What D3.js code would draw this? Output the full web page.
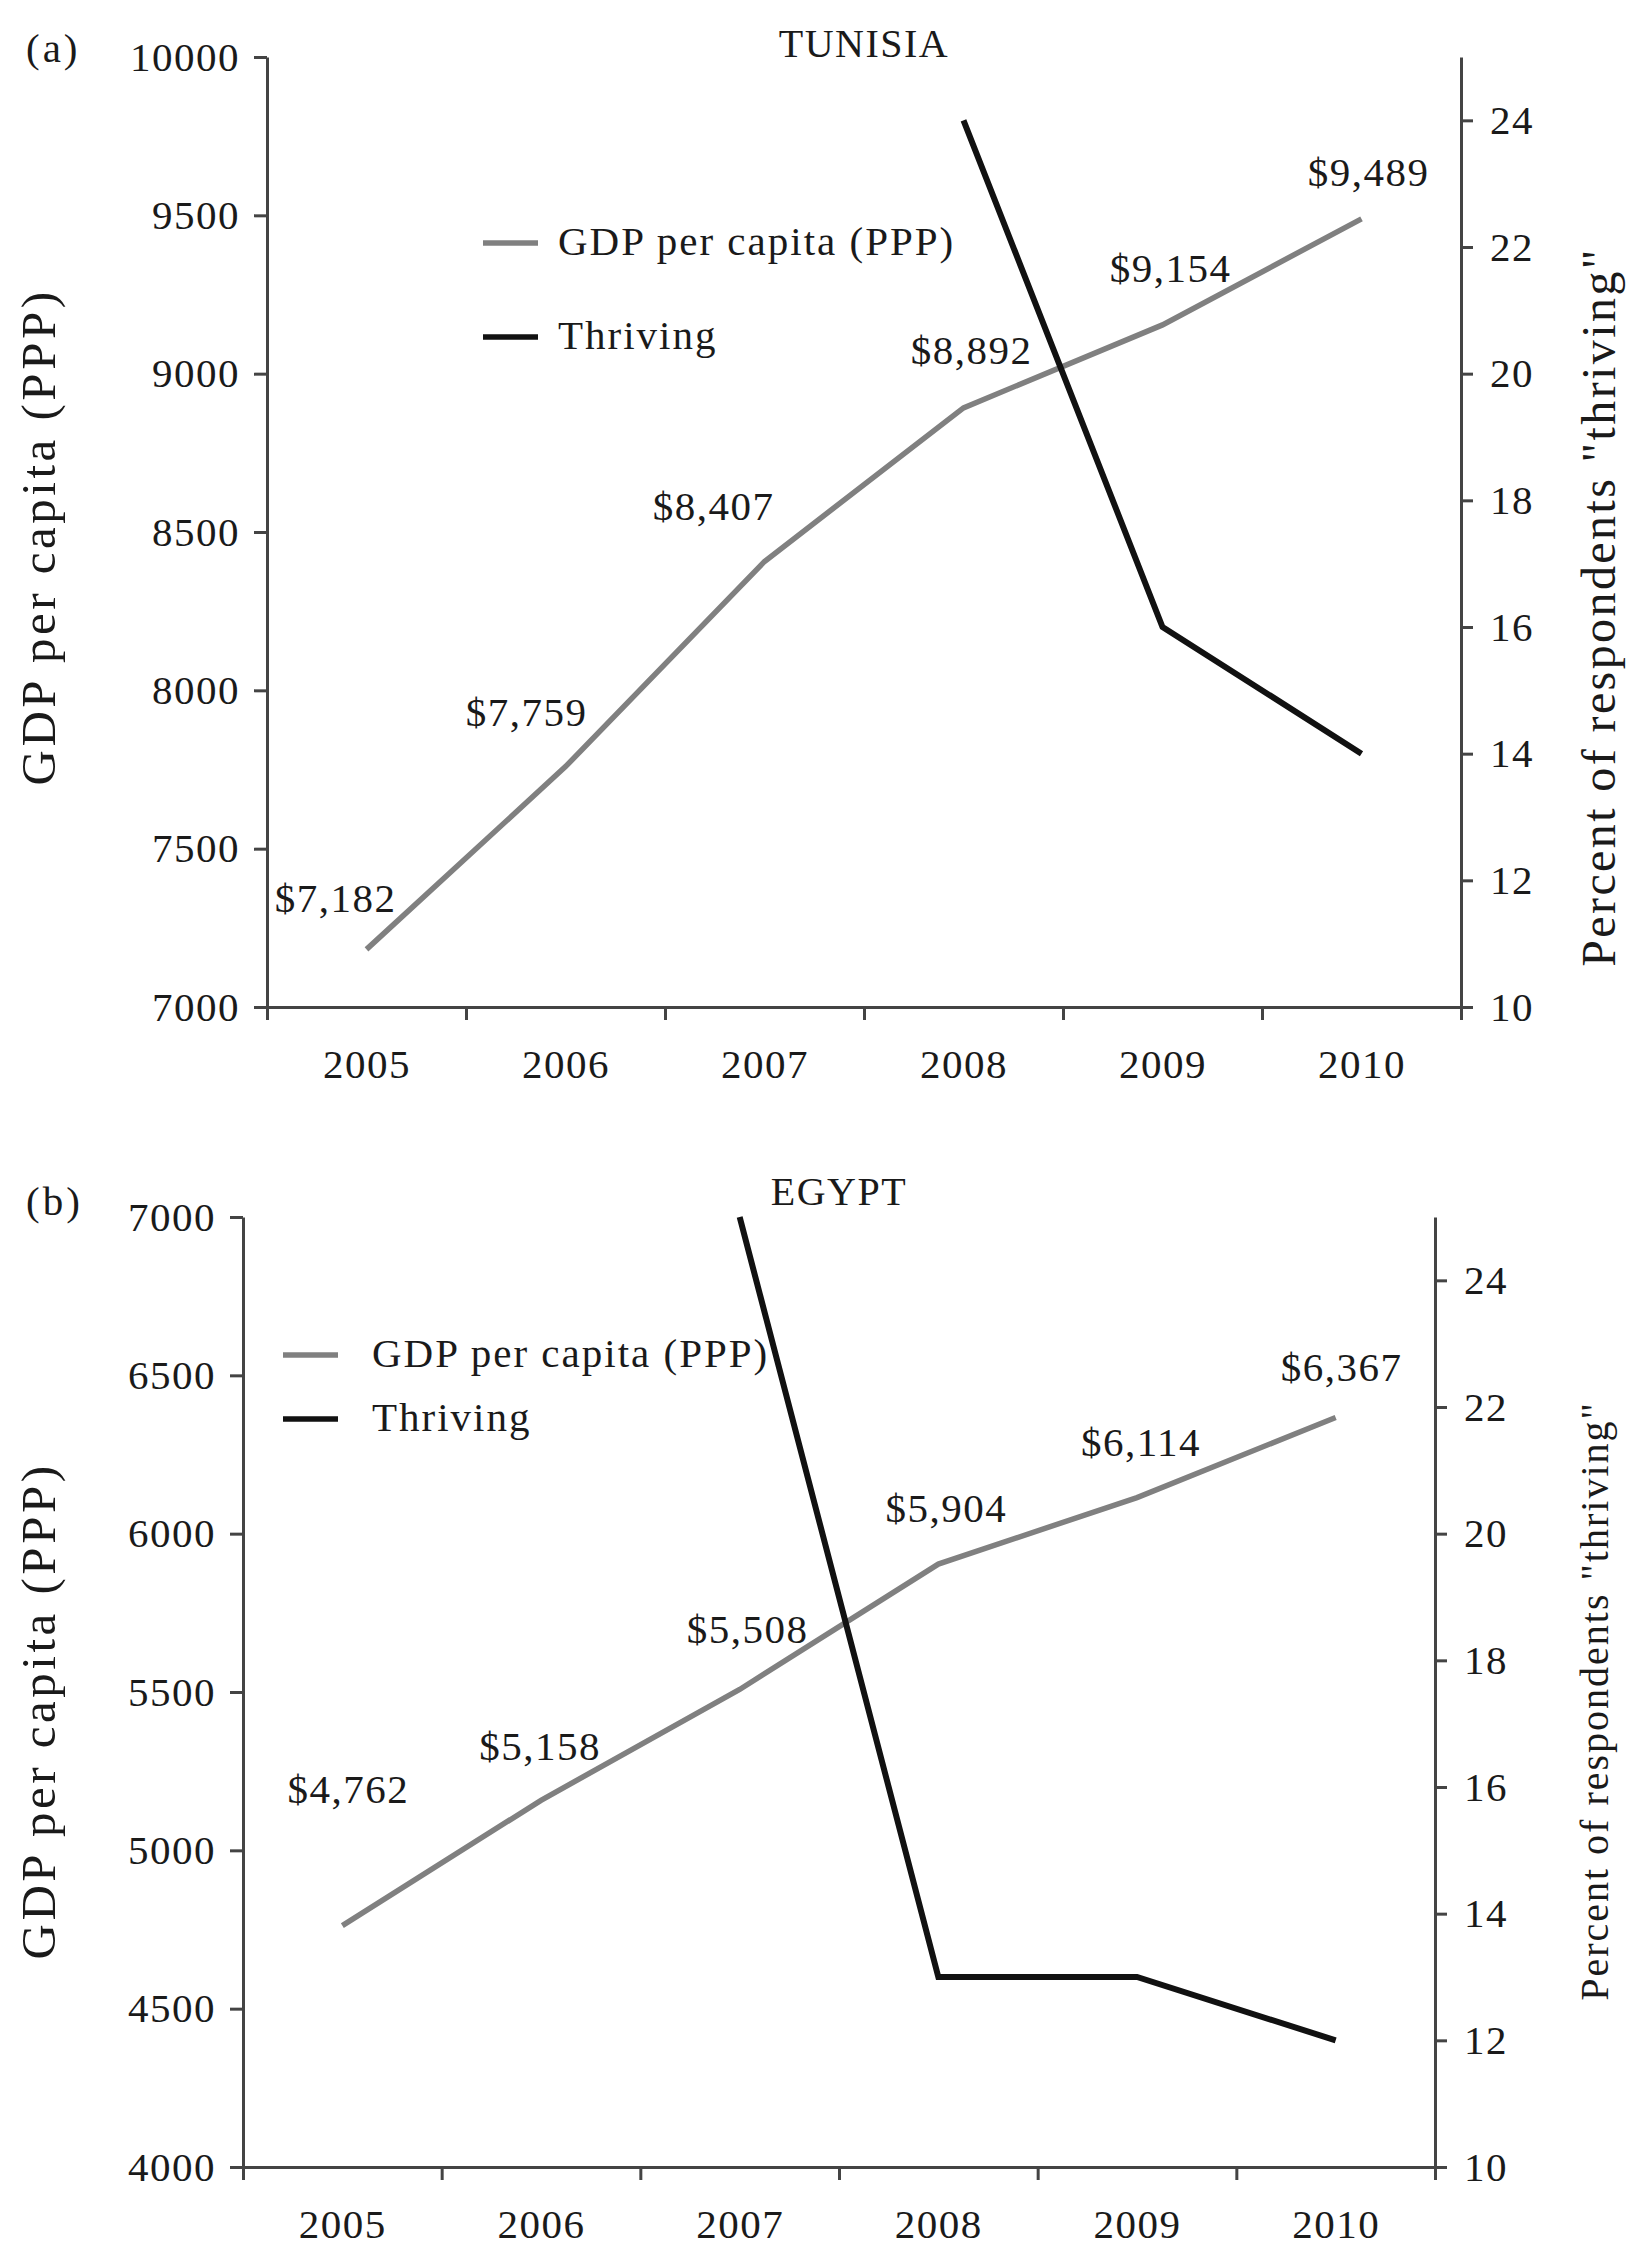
<!DOCTYPE html>
<html>
<head>
<meta charset="utf-8">
<script src="https://cdn.jsdelivr.net/npm/d3@7"></script>
<style>
  body { margin: 0; background: #fff; }
  svg text { font-family: "Liberation Serif", "Times New Roman", serif; fill: #1a1a1a; }
</style>
</head>
<body>
<div id="chart"></div>
<script>
'use strict';

// years on the category axis
var years = [2005, 2006, 2007, 2008, 2009, 2010];

// Tunisia
var tunisiaGdp = [7182, 7759, 8407, 8892, 9154, 9489];
var tunisiaThriving = [null, null, null, 24, 16, 14];
var tunisiaGdpTicks = [7000, 7500, 8000, 8500, 9000, 9500, 10000];

// Egypt
var egyptGdp = [4762, 5158, 5508, 5904, 6114, 6367];
var egyptThriving = [null, null, 25, 13, 13, 12];
var egyptGdpTicks = [4000, 4500, 5000, 5500, 6000, 6500, 7000];

// right axis (percent thriving), same for both panels
var thrivingTicks = [10, 12, 14, 16, 18, 20, 22, 24];
var thrivingDomain = [10, 25];

var W = 1634, H = 2246;
var gdpColor = '#808080', thrivingColor = '#111', axisColor = '#444';
var fmt = d3.format('$,');

var svg = d3.select('#chart').append('svg')
  .attr('width', W)
  .attr('height', H);

/* panel layouts - label nudges are [dx, dy] from the point */
var panels = [
  {
    tag: '(a)', title: 'TUNISIA', gdp: tunisiaGdp, thriving: tunisiaThriving, gdpTicks: tunisiaGdpTicks,
    left: 267, right: 1461, top: 57, bottom: 1007,
    tagY: 62, titleY: 57,
    legendX: 483, legendY: 243, legendGap: 94, legendTextX: 558,
    leftTitle: [55, 537], rightTitle: [1615, 607], rightTitleSize: 48,
    nudge: [[-31, -37], [-39, -41], [-51, -41], [8, -44], [8, -43], [7, -33]]
  },
  {
    tag: '(b)', title: 'EGYPT', gdp: egyptGdp, thriving: egyptThriving, gdpTicks: egyptGdpTicks,
    left: 243, right: 1435, top: 1217, bottom: 2167,
    tagY: 1215, titleY: 1205,
    legendX: 283, legendY: 1355, legendGap: 64, legendTextX: 372,
    leftTitle: [55, 1711], rightTitle: [1608, 1701], rightTitleSize: 40,
    nudge: [[6, -123], [-1, -40], [8, -46], [8, -42], [4, -42], [6, -36]]
  }
];

var drawPanel = function drawPanel(p) {
  var g = svg.append('g');

  // x: linear over year positions so ticks can sit between the years
  var x = d3.scaleLinear()
    .domain([years[0] - 0.5, years[years.length - 1] + 0.5])
    .range([p.left, p.right]);
  var yL = d3.scaleLinear()
    .domain([p.gdpTicks[0], p.gdpTicks[p.gdpTicks.length - 1]])
    .range([p.bottom, p.top]);
  var yR = d3.scaleLinear()
    .domain(thrivingDomain)
    .range([p.bottom, p.top]);

  /* axes */
  var boundaries = years.map(function(y){ return y - 0.5; }).concat([years[years.length - 1] + 0.5]);

  var xTicks = g.append('g')
    .attr('transform', 'translate(0,' + p.bottom + ')')
    .call(d3.axisBottom(x).tickValues(boundaries).tickSize(13).tickSizeOuter(0).tickFormat(''));

  var xLabels = g.append('g')
    .attr('transform', 'translate(0,' + p.bottom + ')')
    .call(d3.axisBottom(x).tickValues(years).tickSize(0).tickFormat(d3.format('d')));
  xLabels.select('.domain').remove();
  xLabels.selectAll('text').attr('y', 71).attr('dy', null);

  var leftAxis = g.append('g')
    .attr('transform', 'translate(' + p.left + ',0)')
    .call(d3.axisLeft(yL).tickValues(p.gdpTicks).tickSize(13).tickSizeOuter(0).tickPadding(14).tickFormat(d3.format('d')));

  var rightAxis = g.append('g')
    .attr('transform', 'translate(' + p.right + ',0)')
    .call(d3.axisRight(yR).tickValues(thrivingTicks).tickSize(12).tickSizeOuter(0).tickPadding(17));

  [xTicks, xLabels, leftAxis, rightAxis].forEach(function(a){
    a.selectAll('.domain, line').attr('stroke', axisColor).attr('stroke-width', 3);
    a.selectAll('text')
      .attr('font-size', 41)
      .style('letter-spacing', '1.5px')
      .attr('fill', '#1a1a1a');
  });

  /* lines */
  var gdpLine = d3.line()
    .x(function(d, i){ return x(years[i]); })
    .y(function(d){ return yL(d); });

  var thrivingLine = d3.line()
    .defined(function(d){ return d !== null; })
    .x(function(d, i){ return x(years[i]); })
    .y(function(d){ return yR(d); });

  g.append('path')
    .datum(p.gdp)
    .attr('d', gdpLine)
    .attr('fill', 'none')
    .attr('stroke', gdpColor)
    .attr('stroke-width', 5.5);

  g.append('path')
    .datum(p.thriving)
    .attr('d', thrivingLine)
    .attr('fill', 'none')
    .attr('stroke', thrivingColor)
    .attr('stroke-width', 6);

  // value labels on the gdp line
  g.selectAll('.val')
    .data(p.gdp)
    .enter().append('text')
    .attr('class', 'val')
    .attr('x', function(d, i){ return x(years[i]) + p.nudge[i][0]; })
    .attr('y', function(d, i){ return yL(d) + p.nudge[i][1]; })
    .attr('text-anchor', 'middle')
    .attr('font-size', 41)
    .style('letter-spacing', '1.5px')
    .text(function(d){ return fmt(d); });

  /* titles */
  g.append('text')
    .attr('x', 26)
    .attr('y', p.tagY)
    .attr('font-size', 41)
    .style('letter-spacing', '3px')
    .text(p.tag);

  g.append('text')
    .attr('x', (p.left + p.right) / 2 + 0)
    .attr('y', p.titleY)
    .attr('text-anchor', 'middle')
    .attr('font-size', 40)
    .style('letter-spacing', '1.5px')
    .text(p.title);

  g.append('text')
    .attr('transform', 'translate(' + p.leftTitle[0] + ',' + p.leftTitle[1] + ') rotate(-90)')
    .attr('text-anchor', 'middle')
    .attr('font-size', 49)
    .style('letter-spacing', '3.5px')
    .text('GDP per capita (PPP)');

  g.append('text')
    .attr('transform', 'translate(' + p.rightTitle[0] + ',' + p.rightTitle[1] + ') rotate(-90)')
    .attr('text-anchor', 'middle')
    .attr('font-size', p.rightTitleSize)
    .style('letter-spacing', (p.rightTitleSize / 20) + 'px')
    .text('Percent of respondents "thriving"');

  /* legend */
  var legendItems = [
    { name: 'GDP per capita (PPP)', color: gdpColor },
    { name: 'Thriving', color: thrivingColor }
  ];
  var lg = g.selectAll('.legend')
    .data(legendItems)
    .enter().append('g')
    .attr('transform', function(d, i){ return 'translate(0,' + (p.legendY + i * p.legendGap) + ')'; });

  lg.append('line')
    .attr('x1', p.legendX)
    .attr('x2', p.legendX + 55)
    .attr('stroke', function(d){ return d.color; })
    .attr('stroke-width', 5.5);

  lg.append('text')
    .attr('x', p.legendTextX)
    .attr('y', 12)
    .attr('font-size', 41)
    .style('letter-spacing', '2px')
    .text(function(d){ return d.name; });
};

panels.forEach(drawPanel);
</script>
</body>
</html>
